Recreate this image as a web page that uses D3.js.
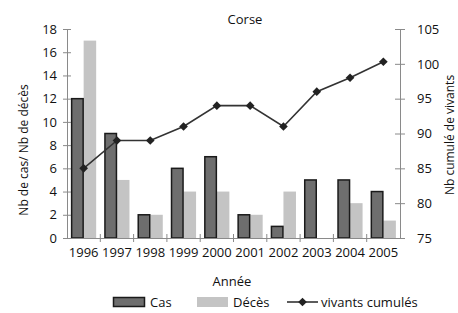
<!DOCTYPE html>
<html>
<head>
<meta charset="utf-8">
<script src="https://cdn.jsdelivr.net/npm/d3@7"></script>
<style>
  body { margin: 0; background: #fff; }
  svg text { font-family: "Open Sans", sans-serif; fill: #111; }
</style>
</head>
<body>
<svg id="chart" width="458" height="313"></svg>
<script>
// data
const years = ["1996", "1997", "1998", "1999", "2000", "2001", "2002", "2003", "2004", "2005"];
const cas = [12, 9, 2, 6, 7, 2, 1, 5, 5, 4];
const deces = [17, 5, 2, 4, 4, 2, 4, 0, 3, 1.5];
const vivants = [85, 89, 89, 91, 94, 94, 91, 96, 98, 100.3];
const leftTicks = [0, 2, 4, 6, 8, 10, 12, 14, 16, 18];
const rightTicks = [75, 80, 85, 90, 95, 100, 105];

const svg = d3.select("#chart");
const x0 = 67, x1 = 400, yTop = 29, yBot = 238;

const x = d3.scaleBand().domain(years).range([x0, x1]);
const xSub = d3.scaleBand().domain(["cas", "deces"]).range([0, x.bandwidth()]).paddingOuter(0.33);
const yL = d3.scaleLinear().domain([0, 18]).range([yBot, yTop]);
const yR = d3.scaleLinear().domain([75, 105]).range([yBot, yTop]);

const axisCol = "#8a8a8a";

// bars
const g = svg.append("g");
g.selectAll("rect.deces")
  .data(years)
  .enter()
  .append("rect")
  .attr("class", "deces")
  .attr("x", (d) => x(d) + xSub("deces"))
  .attr("y", (d, i) => yL(deces[i]))
  .attr("width", xSub.bandwidth())
  .attr("height", (d, i) => yBot - yL(deces[i]))
  .attr("fill", "#c4c4c4");

g.selectAll("rect.cas")
  .data(years)
  .enter()
  .append("rect")
  .attr("class", "cas")
  .attr("x", (d) => x(d) + xSub("cas") + 0.5)
  .attr("y", (d, i) => yL(cas[i]))
  .attr("width", xSub.bandwidth() - 1)
  .attr("height", (d, i) => yBot - yL(cas[i]))
  .attr("fill", "#6e6e6e")
  .style("stroke", "#1a1a1a")
  .style("stroke-width", 1.5);

// axes
const styleAxis = (sel) => {
  sel.select(".domain").attr("stroke", axisCol);
  sel.selectAll(".tick line").attr("stroke", axisCol);
  sel.selectAll(".tick text").style("font-size", "13px").attr("fill", "#111");
};

const xAxis = svg.append("g")
  .attr("transform", `translate(0,${yBot})`)
  .call(d3.axisBottom(x).tickSize(0).tickPadding(10));
styleAxis(xAxis);
// ticks between categories
svg.append("g").selectAll("line")
  .data(years.slice(1))
  .enter()
  .append("line")
  .attr("x1", (d) => x(d)).attr("x2", (d) => x(d))
  .attr("y1", yBot - 4).attr("y2", yBot + 4)
  .attr("stroke", axisCol);

const yAxisL = svg.append("g")
  .attr("transform", `translate(${x0},0)`)
  .call(d3.axisLeft(yL).tickValues(leftTicks).tickSizeInner(4).tickSizeOuter(0).tickPadding(6));
styleAxis(yAxisL);
yAxisL.selectAll(".tick line").attr("x2", 4).attr("x1", -4);

const yAxisR = svg.append("g")
  .attr("transform", `translate(${x1},0)`)
  .call(d3.axisRight(yR).tickValues(rightTicks).tickSizeInner(5).tickSizeOuter(0).tickPadding(12));
styleAxis(yAxisR);
yAxisR.selectAll(".tick line").attr("x1", -5).attr("x2", 5);

// line
const line = d3.line()
  .x((d, i) => x(years[i]) + x.bandwidth() / 2)
  .y((d) => yR(d));
svg.append("path")
  .datum(vivants)
  .attr("d", line)
  .attr("fill", "none")
  .attr("stroke", "#333")
  .attr("stroke-width", 1.6);
svg.selectAll("path.pt")
  .data(vivants)
  .enter()
  .append("path")
  .attr("class", "pt")
  .attr("d", d3.symbol(d3.symbolDiamond2, 48))
  .attr("transform", (d, i) => `translate(${x(years[i]) + x.bandwidth() / 2},${yR(d)})`)
  .attr("fill", "#222");

// titles
svg.append("text").attr("x", 245).attr("y", 24).attr("text-anchor", "middle")
  .style("font-size", "13px").text("Corse");
svg.append("text").attr("x", 232).attr("y", 286).attr("text-anchor", "middle")
  .style("font-size", "13px").text("Année");
svg.append("text")
  .attr("transform", "translate(28,150) rotate(-90)")
  .attr("text-anchor", "middle").style("font-size", "12px")
  .text("Nb de cas/ Nb de décès");
svg.append("text")
  .attr("transform", "translate(454,135) rotate(-90)")
  .attr("text-anchor", "middle").style("font-size", "12px")
  .text("Nb cumulé de vivants");

// legend
const ly = 302;
svg.append("rect").attr("x", 113.5).attr("y", ly - 4.5).attr("width", 31).attr("height", 9)
  .attr("fill", "#6e6e6e").style("stroke", "#1a1a1a").style("stroke-width", 1.5);
svg.append("text").attr("x", 150).attr("y", ly + 5).style("font-size", "13px").text("Cas");
svg.append("rect").attr("x", 197).attr("y", ly - 5).attr("width", 31).attr("height", 10)
  .attr("fill", "#c4c4c4");
svg.append("text").attr("x", 233).attr("y", ly + 5).style("font-size", "13px").text("Décès");
svg.append("line").attr("x1", 287).attr("x2", 318).attr("y1", ly).attr("y2", ly)
  .attr("stroke", "#333").attr("stroke-width", 1.6);
svg.append("path").attr("d", d3.symbol(d3.symbolDiamond2, 48))
  .attr("transform", `translate(302.5,${ly})`).attr("fill", "#222");
svg.append("text").attr("x", 321).attr("y", ly + 5).style("font-size", "13px").text("vivants cumulés");
</script>
</body>
</html>
